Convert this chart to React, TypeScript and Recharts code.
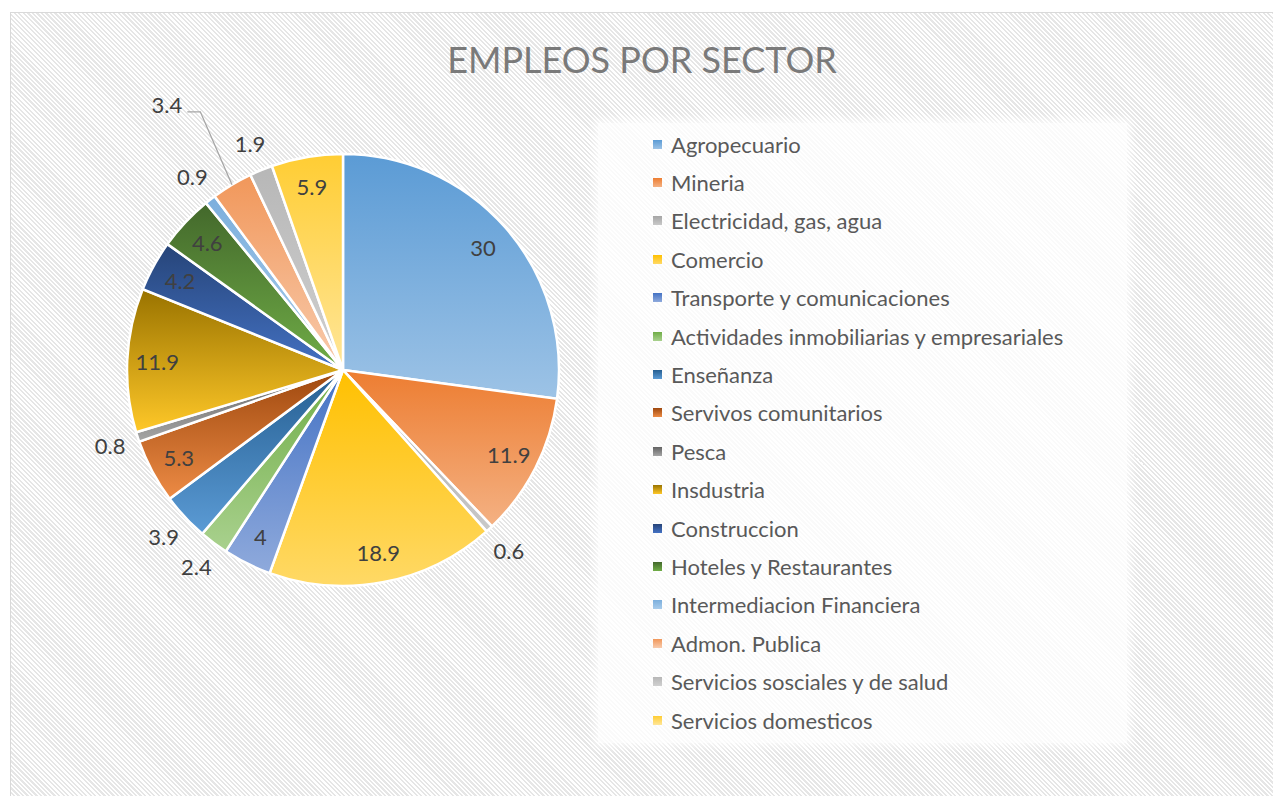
import React from "react"
import { PieChart, Pie, Cell, Legend } from "recharts"

const SECTORS = [
  "Agropecuario",
  "Mineria",
  "Electricidad, gas, agua",
  "Comercio",
  "Transporte y comunicaciones",
  "Actividades inmobiliarias y empresariales",
  "Enseñanza",
  "Servivos comunitarios",
  "Pesca",
  "Insdustria",
  "Construccion",
  "Hoteles y Restaurantes",
  "Intermediacion Financiera",
  "Admon. Publica",
  "Servicios sosciales y de salud",
  "Servicios domesticos",
]

const EMPLEOS = [30, 11.9, 0.6, 18.9, 4, 2.4, 3.9, 5.3, 0.8, 11.9, 4.2, 4.6, 0.9, 3.4, 1.9, 5.9]

// gradient stops per slice (top -> bottom)
const TOP_COLORS = [
  "#5b9bd5", "#ed7d31", "#a5a5a5", "#ffc000", "#4472c4", "#70ad47", "#255e91", "#9e480e",
  "#636363", "#997300", "#264478", "#43682b", "#7cafdd", "#f1975a", "#b7b7b7", "#ffcd33",
]
const BOTTOM_COLORS = [
  "#9dc3e6", "#f4b183", "#c9c9c9", "#ffd966", "#8faadc", "#a9d18e", "#5b9bd5", "#ed8b45",
  "#a5a5a5", "#ffc828", "#4472c4", "#70ad47", "#a9cceb", "#f8cbad", "#d0d0d0", "#ffe699",
]

// labels that Excel pushed away from the pie with a leader line
const PUSHED_OUT = new Set(["Admon. Publica"])

const data = SECTORS.map((name, i) => ({ name, value: EMPLEOS[i] }))

const RAD = Math.PI / 180
const FONT = "Lato, 'Open Sans', sans-serif"

function renderLabel(props: any) {
  const { cx, cy, midAngle, outerRadius, value, name } = props
  const cos = Math.cos(-midAngle * RAD)
  const sin = Math.sin(-midAngle * RAD)
  const style = { fontFamily: FONT, fontSize: 22, fill: "#404040" }

  if (PUSHED_OUT.has(name)) {
    const sx = cx + outerRadius * cos
    const sy = cy + outerRadius * sin
    const a = -(midAngle - 2) * RAD
    const ex = cx + (outerRadius + 79) * Math.cos(a)
    const ey = cy + (outerRadius + 79) * Math.sin(a)
    const tx = ex - 13
    return (
      <g>
        <polyline
          points={`${sx},${sy} ${ex},${ey} ${tx},${ey}`}
          fill="none"
          stroke="#a6a6a6"
          strokeWidth={1.3}
        />
        <text x={tx - 5} y={ey + 1} textAnchor="end" stroke="none" {...style}>
          {String(value)}
        </text>
      </g>
    )
  }

  const r = value >= 4 ? outerRadius - 30 : outerRadius + 29
  return (
    <text
      x={cx + r * cos}
      y={cy + r * sin}
      textAnchor="middle"
      dominantBaseline="central"
      stroke="none"
      {...style}
    >
      {String(value)}
    </text>
  )
}

function LegendBox({ payload }: any) {
  const items = [...(payload || [])].sort(
    (a: any, b: any) => SECTORS.indexOf(a.value) - SECTORS.indexOf(b.value)
  )
  return (
    <div
      style={{
        width: 529,
        height: 620,
        background: "rgba(255,255,255,0.8)",
        boxShadow: "0 0 8px 4px rgba(255,255,255,0.7)",
        paddingTop: 2,
        boxSizing: "border-box",
        fontFamily: FONT,
        fontSize: 22,
        color: "#595959",
      }}
    >
      {items.map((entry: any) => {
        const i = SECTORS.indexOf(entry.value)
        return (
          <div key={entry.value} style={{ height: 38.4, display: "flex", alignItems: "center" }}>
            <span
              style={{
                width: 9,
                height: 9,
                marginLeft: 55,
                marginRight: 9,
                background: `linear-gradient(${TOP_COLORS[i]}, ${BOTTOM_COLORS[i]})`,
              }}
            />
            <span>{entry.value}</span>
          </div>
        )
      })}
    </div>
  )
}

export default function App() {
  return (
    <div
      style={{
        position: "absolute",
        left: 10,
        top: 12,
        width: 1263,
        height: 784,
        boxSizing: "border-box",
        borderTop: "1px solid #d9d9d9",
        borderLeft: "1px solid #d9d9d9",
        background:
          "repeating-linear-gradient(45deg, #ffffff 0px, #ffffff 1.6px, #e6e6e6 1.6px, #e6e6e6 3.2px)",
        overflow: "hidden",
      }}
    >
      <div
        style={{
          position: "absolute",
          left: 0,
          width: 1262,
          top: 27,
          textAlign: "center",
          fontFamily: FONT,
          fontSize: 36,
          lineHeight: "38px",
          color: "#7a7a7a",
        }}
      >
        EMPLEOS POR SECTOR
      </div>
      <PieChart width={1262} height={783} margin={{ top: 0, right: 0, bottom: 0, left: 0 }}>
        <defs>
          {data.map((_, i) => (
            <linearGradient key={i} id={`slice${i}`} x1="0" y1="0" x2="0" y2="1">
              <stop offset="0%" stopColor={TOP_COLORS[i]} />
              <stop offset="100%" stopColor={BOTTOM_COLORS[i]} />
            </linearGradient>
          ))}
        </defs>
        <Pie
          data={data}
          dataKey="value"
          nameKey="name"
          cx={332}
          cy={357}
          outerRadius={216}
          startAngle={90}
          endAngle={-270}
          stroke="#ffffff"
          strokeWidth={2.5}
          label={renderLabel}
          labelLine={false}
          isAnimationActive={false}
        >
          {data.map((_, i) => (
            <Cell key={i} fill={`url(#slice${i})`} />
          ))}
        </Pie>
        <Legend
          layout="vertical"
          align="right"
          verticalAlign="top"
          content={<LegendBox />}
          wrapperStyle={{ left: 587, top: 110, width: 529, height: 620 }}
        />
      </PieChart>
    </div>
  )
}
